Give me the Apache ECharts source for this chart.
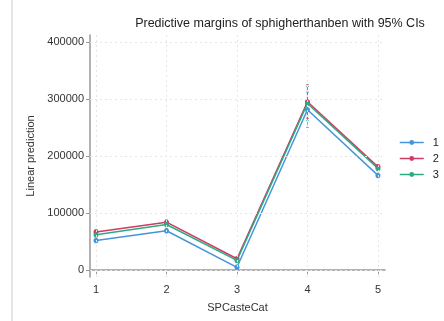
<!DOCTYPE html>
<html>
<head>
<meta charset="utf-8">
<script src="https://cdn.jsdelivr.net/npm/echarts@6/dist/echarts.min.js"></script>
<style>
  html, body { margin: 0; padding: 0; background: #fff; }
  #chart { width: 444px; height: 321px; }
</style>
</head>
<body>
<div id="chart"></div>
<script>
const categories = [1, 2, 3, 4, 5];
const yTicks = [0, 100000, 200000, 300000, 400000];
const seriesNames = ["1", "2", "3"];
// point estimates
const s1 = [52000, 69000, 5000, 281000, 166000];
const s2 = [67000, 84000, 20000, 295000, 181000];
const s3 = [62000, 80000, 17000, 292000, 178000];
// 95% CI bounds
const s1Low = [48000, 65000, 1000, 250000, 162000];
const s1High = [56000, 73000, 9000, 312000, 170000];
const s2Low = [63000, 80000, 16000, 266000, 177000];
const s2High = [71000, 88000, 24000, 325000, 185000];
const s3Low = [58000, 76000, 13000, 262000, 174000];
const s3High = [66000, 84000, 21000, 322000, 182000];

const colors = ["#4595dd", "#cf3a66", "#2aac80"];
const means = [s1, s2, s3];
const lows = [s1Low, s2Low, s3Low];
const highs = [s1High, s2High, s3High];

const chartDom = echarts.init(document.getElementById("chart"));

const lineSeries = seriesNames.map((name, i) => ({
  name: name,
  type: "line",
  z: 3,
  data: categories.map((c, k) => [c, means[i][k]]),
  symbol: "circle",
  symbolSize: 5,
  color: colors[i],
  lineStyle: { width: 1.5, color: colors[i] },
  itemStyle: { color: colors[i], borderWidth: 0 }
}));

const ciSeries = seriesNames.map((name, i) => ({
  name: "ci" + name,
  type: "custom",
  z: 2,
  color: colors[i],
  data: categories.map((c, k) => [c, lows[i][k], highs[i][k]]),
  renderItem(params, api) {
    const x = api.value(0);
    const lo = api.coord([x, api.value(1)]);
    const hi = api.coord([x, api.value(2)]);
    const style = { stroke: colors[i], lineWidth: 1, opacity: 0.7 };
    return {
      type: "group",
      children: [
        { type: "line", shape: { x1: lo[0], y1: lo[1], x2: hi[0], y2: hi[1] }, style },
        { type: "line", shape: { x1: lo[0] - 1.5, y1: lo[1], x2: lo[0] + 1.5, y2: lo[1] }, style },
        { type: "line", shape: { x1: hi[0] - 1.5, y1: hi[1], x2: hi[0] + 1.5, y2: hi[1] }, style }
      ]
    };
  }
}));

chartDom.setOption({
  animation: false,
  title: {
    text: "Predictive margins of sphigherthanben with 95% CIs",
    left: 275,
    top: 12,
    textAlign: "center",
    textStyle: { fontFamily: "Liberation Sans", fontSize: 12.5, fontWeight: "normal", color: "#222" }
  },
  legend: {
    data: seriesNames,
    orient: "vertical",
    left: 394,
    top: 132,
    itemWidth: 24,
    itemHeight: 6,
    itemGap: 5,
    itemStyle: { borderWidth: 0 },
    lineStyle: { width: 1.5 },
    textStyle: { fontFamily: "Liberation Sans", fontSize: 11, color: "#222", padding: [0, 0, 0, 4] }
  },
  grid: { left: 90, right: 59, top: 35, bottom: 44 },
  xAxis: {
    type: "value",
    min: 0.915,
    max: 5.1,
    name: "SPCasteCat",
    nameLocation: "middle",
    nameGap: 25,
    nameTextStyle: { fontFamily: "Liberation Sans", fontSize: 11, color: "#333" },
    axisLine: { lineStyle: { color: "#999", width: 1.5 } },
    axisTick: { customValues: categories, length: 4, lineStyle: { color: "#999" } },
    axisLabel: { customValues: categories, fontFamily: "Liberation Sans", fontSize: 11, color: "#333", margin: 7 },
    splitLine: { show: false }
  },
  yAxis: {
    type: "value",
    min: -12000,
    max: 412000,
    name: "Linear prediction",
    nameLocation: "middle",
    nameGap: 52,
    nameRotate: 90,
    nameTextStyle: { fontFamily: "Liberation Sans", fontSize: 11, color: "#333" },
    axisLine: { show: true, lineStyle: { color: "#999", width: 1.5 } },
    axisTick: { show: true, customValues: yTicks, length: 4, lineStyle: { color: "#999" } },
    axisLabel: { customValues: yTicks, formatter: v => String(v), fontFamily: "Liberation Sans", fontSize: 11, color: "#333", margin: 6 },
    splitLine: { show: false }
  },
  graphic: [
    { type: "line", shape: { x1: 12, y1: 0, x2: 12, y2: 321 }, style: { stroke: "#ccc", lineWidth: 1 } }
  ],
  series: [
    {
      name: "grid",
      type: "line",
      data: [],
      silent: true,
      markLine: {
        silent: true,
        symbol: "none",
        label: { show: false },
        lineStyle: { color: "#e6e6e6", type: [2, 3], width: 1 },
        data: categories.map(c => ({ xAxis: c })).concat(yTicks.map(v => ({ yAxis: v })))
      }
    }
  ].concat(lineSeries, ciSeries)
});
</script>
</body>
</html>
